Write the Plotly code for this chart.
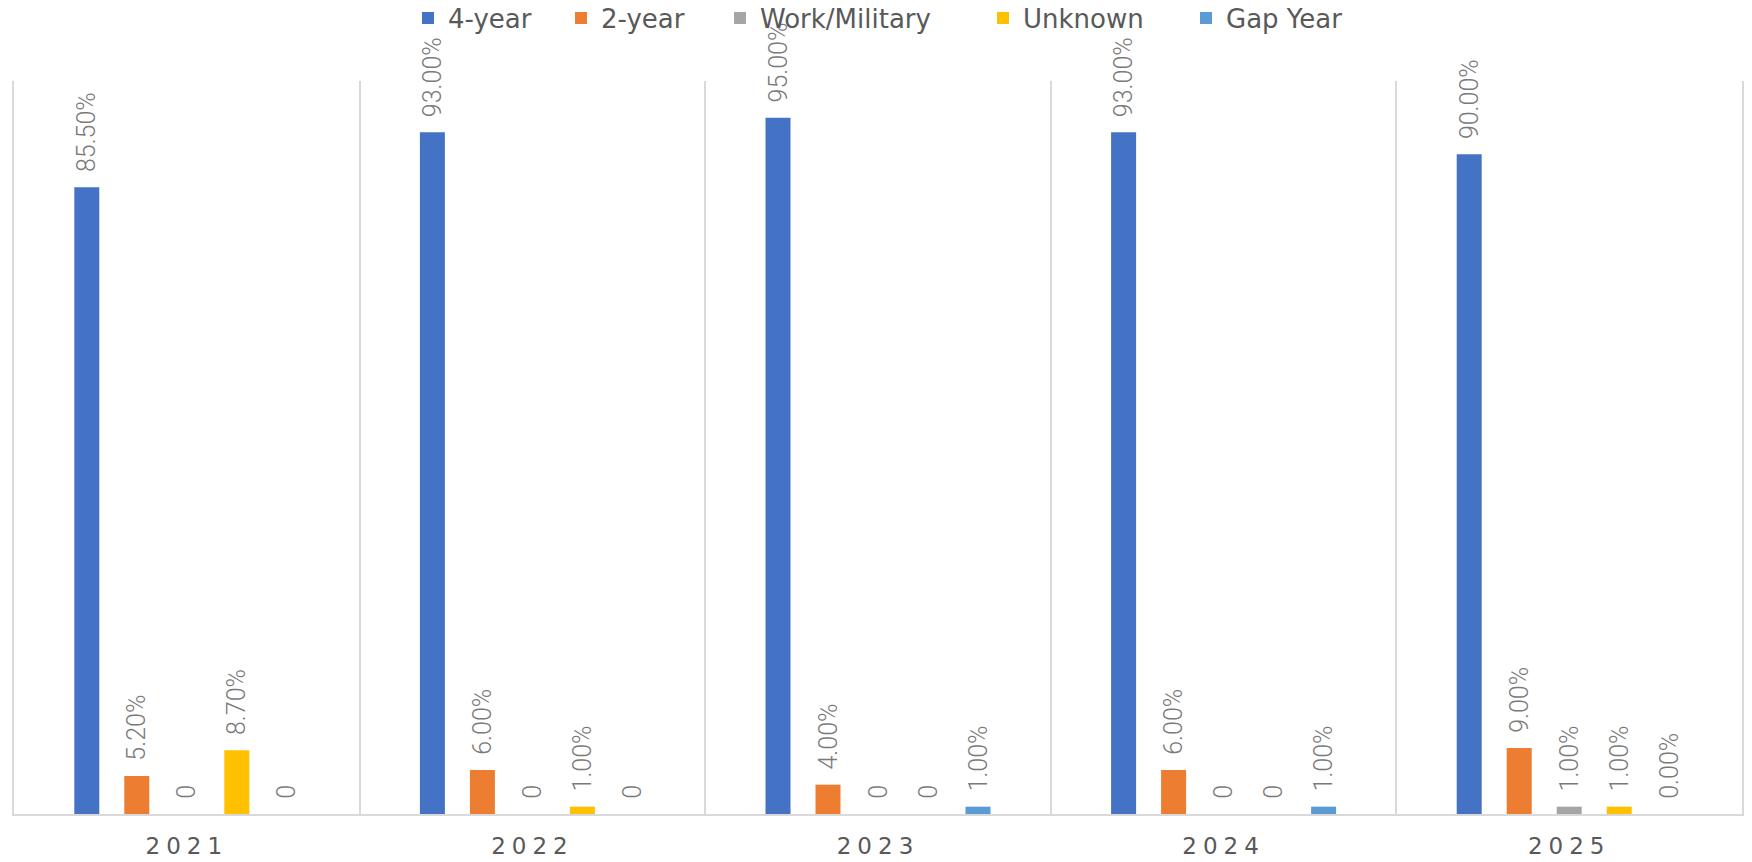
import plotly.graph_objects as go

# ---- data ----
years = ["2021", "2022", "2023", "2024", "2025"]
series_names = ["4-year", "2-year", "Work/Military", "Unknown", "Gap Year"]
four_year = [0.855, 0.93, 0.95, 0.93, 0.90]
two_year = [0.052, 0.06, 0.04, 0.06, 0.09]
work_military = [0.0, 0.0, 0.0, 0.0, 0.01]
unknown = [0.087, 0.01, 0.0, 0.0, 0.01]
gap_year = [0.0, 0.0, 0.01, 0.01, 0.0]
# zero values shown as "0" unless flagged to show as a percentage
zero_as_percent = {
    "4-year": [False] * 5,
    "2-year": [False] * 5,
    "Work/Military": [False] * 5,
    "Unknown": [False] * 5,
    "Gap Year": [False, False, False, False, True],
}

# ---- styles ----
colors = ["#4472C4", "#ED7D31", "#A5A5A5", "#FFC000", "#5B9BD5"]
legend_symbol_center_px = [428, 581, 740, 1003, 1206]
legend_center_y_px = 18
W, H = 1752, 862
ML, MR, MT, MB = 14, 10, 81, 48
PAD = "\u00a0\u00a0"

values = [four_year, two_year, work_military, unknown, gap_year]


def label(v, as_pct):
    if v == 0 and not as_pct:
        return "0"
    return f"{v * 100:.2f}%"


fig = go.Figure()
for i, (name, vals, col) in enumerate(zip(series_names, values, colors)):
    texts = [PAD + label(v, f) for v, f in zip(vals, zero_as_percent[name])]
    fig.add_trace(go.Bar(
        name=name, x=years, y=vals, marker=dict(color=col, line=dict(width=0)),
        text=texts, textposition="outside", textangle=-90, constraintext="none",
        cliponaxis=False,
        textfont=dict(family="Roboto", size=25, weight=300, color="#7a7a7a"),
        legend="legend" if i == 0 else f"legend{i + 1}",
        hoverinfo="skip",
    ))

pw = W - ML - MR
legend_common = dict(
    orientation="h", xref="paper", yref="container", yanchor="middle",
    y=1 - legend_center_y_px / H,
    xanchor="left", bgcolor="rgba(0,0,0,0)", borderwidth=0,
    font=dict(family="DejaVu Sans", size=26, color="#595959"),
)
layout_legends = {}
for i, px in enumerate(legend_symbol_center_px):
    key = "legend" if i == 0 else f"legend{i + 1}"
    layout_legends[key] = dict(legend_common, x=(px - 20 - ML) / pw)

fig.update_layout(
    width=W, height=H,
    margin=dict(l=ML, r=MR, t=MT, b=MB, pad=0, autoexpand=False),
    paper_bgcolor="white", plot_bgcolor="white",
    barmode="group", bargap=1 - 250 / (pw / 5), bargroupgap=0.5,
    showlegend=True,
    xaxis=dict(
        type="category", tickson="boundaries", showgrid=True, gridcolor="#d9d9d9", gridwidth=2,
        ticks="", showline=True, linecolor="#d9d9d9", linewidth=2,
        tickfont=dict(family="DejaVu Sans", size=23, color="#595959"),
        ticklabelstandoff=10,
    ),
    yaxis=dict(
        range=[0, 1], showgrid=False, zeroline=False, showticklabels=False, ticks="",
        showline=True, mirror=True, linecolor="#d9d9d9", linewidth=2,
    ),
    **layout_legends,
)

js = """
document.body.style.margin='0';
document.querySelectorAll('.xtick text').forEach(function(t){t.style.letterSpacing='6px';});
"""
fig.write_html("out.html", post_script=js, config={"displayModeBar": False})
